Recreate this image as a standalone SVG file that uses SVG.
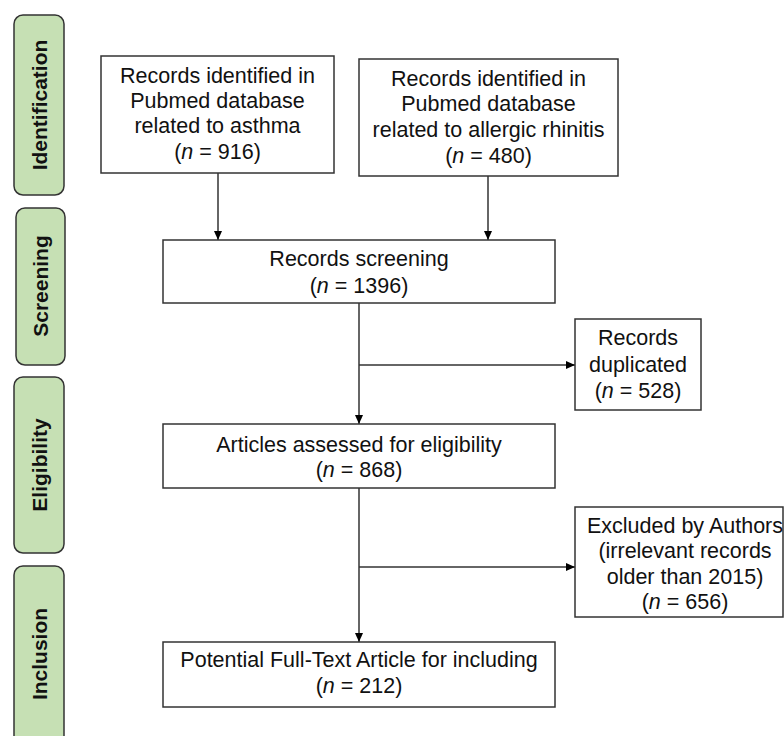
<svg xmlns="http://www.w3.org/2000/svg" width="784" height="736" viewBox="0 0 784 736">
<defs>
<marker id="ah" markerWidth="10" markerHeight="10" refX="9" refY="5" orient="auto" markerUnits="userSpaceOnUse">
<path d="M0,1 L9,5 L0,9 Z" fill="#000"/>
</marker>
<style>
.box{fill:#fff;stroke:#333;stroke-width:1.5}
.stage{fill:#c6e0b4;stroke:#333;stroke-width:1.5}
.t{font-family:"Liberation Sans",Arial,sans-serif;font-size:21.5px;fill:#111;text-anchor:middle}
.s{font-family:"Liberation Sans",Arial,sans-serif;font-size:21px;font-weight:bold;fill:#111;text-anchor:middle}
.c{fill:none;stroke:#333;stroke-width:1.5}
</style>
</defs>
<rect width="784" height="736" fill="#fff"/>
<g id="stage-identification"><rect class="stage" x="14" y="15" width="50" height="180" rx="9"/><text class="s" transform="translate(47,105) rotate(-90)">Identification</text></g>
<g id="stage-screening"><rect class="stage" x="16" y="208" width="49" height="157" rx="9"/><text class="s" transform="translate(48,286) rotate(-90)">Screening</text></g>
<g id="stage-eligibility"><rect class="stage" x="14" y="377" width="50" height="176" rx="9"/><text class="s" transform="translate(47,465) rotate(-90)">Eligibility</text></g>
<g id="stage-inclusion"><rect class="stage" x="14" y="566" width="50" height="180" rx="9"/><text class="s" transform="translate(47,654) rotate(-90)">Inclusion</text></g>

<g id="connectors">
<line class="c" x1="218" y1="173" x2="218" y2="240" marker-end="url(#ah)"/>
<line class="c" x1="488" y1="176" x2="488" y2="240" marker-end="url(#ah)"/>
<line class="c" x1="359" y1="303" x2="359" y2="424" marker-end="url(#ah)"/>
<line class="c" x1="359" y1="365" x2="575" y2="365" marker-end="url(#ah)"/>
<line class="c" x1="359" y1="488" x2="359" y2="642" marker-end="url(#ah)"/>
<line class="c" x1="359" y1="567" x2="575" y2="567" marker-end="url(#ah)"/>
</g>

<g id="asthma"><rect class="box" x="101" y="56" width="233" height="117"/>
<text class="t" x="217.5" y="83">Records identified in</text>
<text class="t" x="217.5" y="108">Pubmed database</text>
<text class="t" x="217.5" y="133">related to asthma</text>
<text class="t" x="217.5" y="159">(<tspan font-style="italic">n</tspan> = 916)</text></g>

<g id="rhinitis"><rect class="box" x="359" y="59" width="259" height="117"/>
<text class="t" x="488.5" y="86">Records identified in</text>
<text class="t" x="488.5" y="111">Pubmed database</text>
<text class="t" x="488.5" y="137">related to allergic rhinitis</text>
<text class="t" x="488.5" y="163">(<tspan font-style="italic">n</tspan> = 480)</text></g>

<g id="screening"><rect class="box" x="163" y="240" width="392" height="63"/>
<text class="t" x="359" y="266">Records screening</text>
<text class="t" x="359" y="293">(<tspan font-style="italic">n</tspan> = 1396)</text></g>

<g id="duplicated"><rect class="box" x="575" y="319" width="126" height="91"/>
<text class="t" x="638" y="345">Records</text>
<text class="t" x="638" y="372">duplicated</text>
<text class="t" x="638" y="398">(<tspan font-style="italic">n</tspan> = 528)</text></g>

<g id="eligibility"><rect class="box" x="163" y="424" width="392" height="64"/>
<text class="t" x="359" y="452">Articles assessed for eligibility</text>
<text class="t" x="359" y="477">(<tspan font-style="italic">n</tspan> = 868)</text></g>

<g id="excluded"><rect class="box" x="575" y="507" width="208" height="110"/>
<text class="t" x="685" y="533">Excluded by Authors</text>
<text class="t" x="685" y="558">(irrelevant records</text>
<text class="t" x="685" y="584">older than 2015)</text>
<text class="t" x="685" y="609">(<tspan font-style="italic">n</tspan> = 656)</text></g>

<g id="inclusion"><rect class="box" x="163" y="642" width="392" height="65"/>
<text class="t" x="359" y="667">Potential Full-Text Article for including</text>
<text class="t" x="359" y="693">(<tspan font-style="italic">n</tspan> = 212)</text></g>
</svg>
